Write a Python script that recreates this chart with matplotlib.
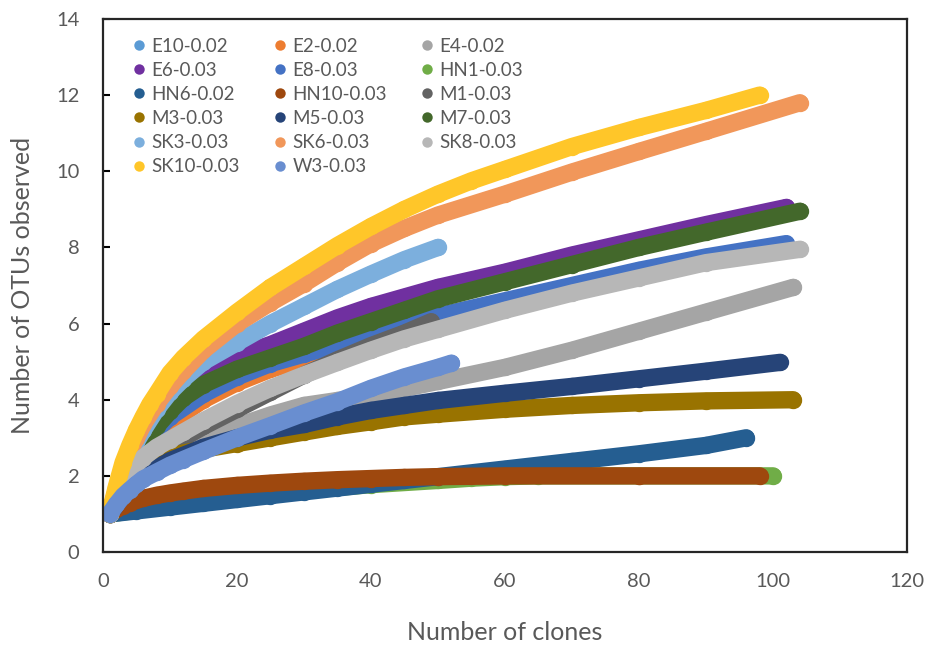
import matplotlib.pyplot as plt
from matplotlib.lines import Line2D

plt.rcParams['font.family'] = ['Lato', 'DejaVu Sans']

# rarefaction curves: clones (x) vs OTUs observed (y)
e10_x = [1, 3, 5, 8, 10, 12, 15, 18, 22, 25]
e10_y = [1, 1.55, 1.95, 2.4, 2.6, 2.75, 2.95, 3.15, 3.35, 3.5]
e2_x = [1, 3, 5, 8, 10, 15, 20, 25, 30, 35, 40]
e2_y = [1, 1.85, 2.4, 3.05, 3.4, 4.0, 4.45, 4.8, 5.05, 5.35, 5.6]
e4_x = [1, 3, 5, 8, 10, 15, 20, 25, 30, 35, 40, 45, 50, 60, 70, 80, 90, 103]
e4_y = [1, 1.5, 1.9, 2.3, 2.5, 2.95, 3.3, 3.6, 3.85, 3.98, 4.12, 4.3, 4.48, 4.85, 5.3, 5.8, 6.3, 6.95]
e6_x = [1, 2, 3, 4, 5, 6, 8, 10, 12, 15, 20, 25, 30, 35, 40, 45, 50, 60, 70, 80, 90, 102]
e6_y = [1, 1.6, 2.05, 2.45, 2.8, 3.1, 3.6, 4.0, 4.35, 4.75, 5.15, 5.45, 5.8, 6.15, 6.45, 6.7, 6.95,
        7.35, 7.8, 8.2, 8.6, 9.05]
e8_x = [1, 3, 5, 8, 10, 15, 20, 25, 30, 35, 40, 45, 50, 60, 70, 80, 90, 102]
e8_y = [1, 1.9, 2.5, 3.2, 3.55, 4.15, 4.6, 4.95, 5.2, 5.45, 5.7, 5.95, 6.2, 6.6, 7.0, 7.4, 7.75, 8.1]
hn1_x = [1, 5, 10, 20, 30, 40, 50, 55, 60, 65, 80, 100]
hn1_y = [1, 1.1, 1.25, 1.45, 1.62, 1.77, 1.88, 1.94, 1.98, 2.0, 2.0, 2.0]
hn6_x = [1, 5, 10, 15, 20, 25, 30, 35, 40, 45, 50, 60, 70, 80, 90, 96]
hn6_y = [1, 1.08, 1.18, 1.28, 1.38, 1.48, 1.58, 1.68, 1.78, 1.88, 1.98, 2.18, 2.38, 2.58, 2.8, 3.0]
hn10_x = [1, 2, 3, 4, 5, 6, 8, 10, 12, 15, 20, 25, 30, 35, 40, 45, 50, 55, 60, 80, 98]
hn10_y = [1, 1.12, 1.22, 1.3, 1.36, 1.41, 1.49, 1.55, 1.6, 1.67, 1.75, 1.81, 1.86, 1.9, 1.93,
          1.96, 1.98, 1.99, 2.0, 2.0, 2.0]
m1_x = [1, 3, 5, 8, 10, 12, 15, 20, 25, 30, 35, 40, 45, 49]
m1_y = [1, 1.7, 2.15, 2.6, 2.8, 3.0, 3.3, 3.75, 4.2, 4.65, 5.05, 5.42, 5.75, 6.05]
m3_x = [1, 2, 3, 4, 5, 6, 8, 10, 12, 15, 20, 25, 30, 35, 40, 45, 50, 60, 70, 80, 90, 103]
m3_y = [1, 1.45, 1.75, 1.95, 2.1, 2.22, 2.4, 2.52, 2.6, 2.7, 2.85, 3.0, 3.15, 3.3, 3.42, 3.55,
        3.62, 3.75, 3.85, 3.92, 3.97, 4.0]
m5_x = [1, 3, 5, 8, 10, 15, 20, 25, 30, 35, 40, 45, 50, 60, 70, 80, 90, 101]
m5_y = [1, 1.5, 1.85, 2.2, 2.4, 2.75, 3.0, 3.2, 3.35, 3.55, 3.72, 3.85, 3.98, 4.17, 4.35, 4.55, 4.75, 4.98]
m7_x = [1, 2, 3, 4, 5, 6, 8, 10, 12, 15, 20, 25, 30, 35, 40, 45, 50, 60, 70, 80, 90, 104]
m7_y = [1, 1.5, 1.95, 2.3, 2.6, 2.85, 3.3, 3.7, 4.05, 4.4, 4.8, 5.1, 5.4, 5.75, 6.05, 6.35, 6.65,
        7.1, 7.55, 8.0, 8.4, 8.95]
sk3_x = [1, 2, 3, 4, 5, 6, 8, 10, 12, 15, 20, 25, 30, 35, 40, 45, 50]
sk3_y = [1, 1.6, 2.1, 2.55, 2.9, 3.2, 3.75, 4.2, 4.55, 5.0, 5.5, 6.0, 6.45, 6.9, 7.3, 7.68, 8.0]
sk6_x = [1, 2, 3, 4, 5, 6, 8, 10, 12, 15, 20, 25, 30, 35, 40, 45, 50, 60, 70, 80, 90, 104]
sk6_y = [1, 1.65, 2.2, 2.65, 3.0, 3.35, 3.9, 4.35, 4.75, 5.3, 6.0, 6.55, 7.05, 7.6, 8.1, 8.5,
         8.85, 9.4, 9.98, 10.52, 11.05, 11.8]
sk8_x = [1, 2, 3, 4, 5, 6, 8, 10, 12, 15, 20, 25, 30, 35, 40, 45, 50, 60, 70, 80, 90, 104]
sk8_y = [1, 1.45, 1.8, 2.08, 2.3, 2.48, 2.75, 2.95, 3.15, 3.45, 3.9, 4.3, 4.65, 4.98, 5.3, 5.6,
         5.85, 6.35, 6.8, 7.2, 7.6, 7.95]
sk10_x = [1, 2, 3, 4, 5, 6, 7, 8, 10, 12, 15, 20, 25, 30, 35, 40, 45, 50, 55, 60, 70, 80, 90, 98]
sk10_y = [1, 1.72, 2.35, 2.8, 3.2, 3.55, 3.88, 4.15, 4.7, 5.1, 5.6, 6.3, 6.95, 7.5, 8.05, 8.55,
          9.0, 9.4, 9.75, 10.05, 10.65, 11.15, 11.6, 12.0]
w3_x = [1, 2, 3, 4, 5, 6, 8, 10, 12, 15, 20, 25, 30, 35, 40, 45, 50, 52]
w3_y = [1, 1.25, 1.47, 1.63, 1.78, 1.92, 2.1, 2.28, 2.43, 2.65, 3.0, 3.32, 3.65, 3.95, 4.3, 4.6,
        4.85, 4.96]

labels = ["E10-0.02", "E2-0.02", "E4-0.02", "E6-0.03", "E8-0.03", "HN1-0.03",
          "HN6-0.02", "HN10-0.03", "M1-0.03", "M3-0.03", "M5-0.03", "M7-0.03",
          "SK3-0.03", "SK6-0.03", "SK8-0.03", "SK10-0.03", "W3-0.03"]
xs = [e10_x, e2_x, e4_x, e6_x, e8_x, hn1_x, hn6_x, hn10_x, m1_x, m3_x, m5_x,
      m7_x, sk3_x, sk6_x, sk8_x, sk10_x, w3_x]
ys = [e10_y, e2_y, e4_y, e6_y, e8_y, hn1_y, hn6_y, hn10_y, m1_y, m3_y, m5_y,
      m7_y, sk3_y, sk6_y, sk8_y, sk10_y, w3_y]
colors = ["#5B9BD5", "#ED7D31", "#A5A5A5", "#7030A0", "#4472C4", "#70AD47",
          "#255E91", "#9E480E", "#636363", "#997300", "#264478", "#43682B",
          "#7CAFDD", "#F1975A", "#B7B7B7", "#FFC629", "#698ED0"]

grey = "#595959"

fig = plt.figure(figsize=(9.31, 6.48), dpi=100)
ax = fig.add_axes([0.1106, 0.1481, 0.8636, 0.8226])

for x, y, c in zip(xs, ys, colors):
    ax.plot(x, y, color=c, lw=12.5, solid_capstyle="round", solid_joinstyle="round",
            marker="o", ms=12.5, mew=0)

ax.set_xlim(0, 120)
ax.set_ylim(0, 14)
ax.set_xticks(range(0, 121, 20))
ax.set_yticks(range(0, 15, 2))
ax.tick_params(axis="y", direction="in", length=5, width=1.5, pad=17,
               labelsize=14.5, labelcolor=grey)
ax.tick_params(axis="x", length=0, pad=15, labelsize=14.5, labelcolor=grey)
for s in ax.spines.values():
    s.set_linewidth(1.6)
    s.set_color("#262626")

ax.set_xlabel("Number of clones", fontsize=18, color=grey)
ax.set_ylabel("Number of OTUs observed", fontsize=18, color=grey)
ax.xaxis.set_label_coords(0.5, -0.13)
ax.yaxis.set_label_coords(-0.086, 0.5)

# legend filled row by row like the original (3 per row)
handles = [Line2D([], [], ls="none", marker="o", ms=7.5, mew=0, color=c) for c in colors]
order = []
for col in range(3):
    order += list(range(col, len(labels), 3))
ax.legend([handles[i] for i in order], [labels[i] for i in order], ncol=3,
          loc="upper left", bbox_to_anchor=(0.029, 0.979), frameon=False,
          fontsize=13.5, labelcolor=grey, handlelength=0.6, handletextpad=0.35,
          labelspacing=0.38, columnspacing=1.85, borderaxespad=0)

fig.savefig("out.png", dpi=100)
